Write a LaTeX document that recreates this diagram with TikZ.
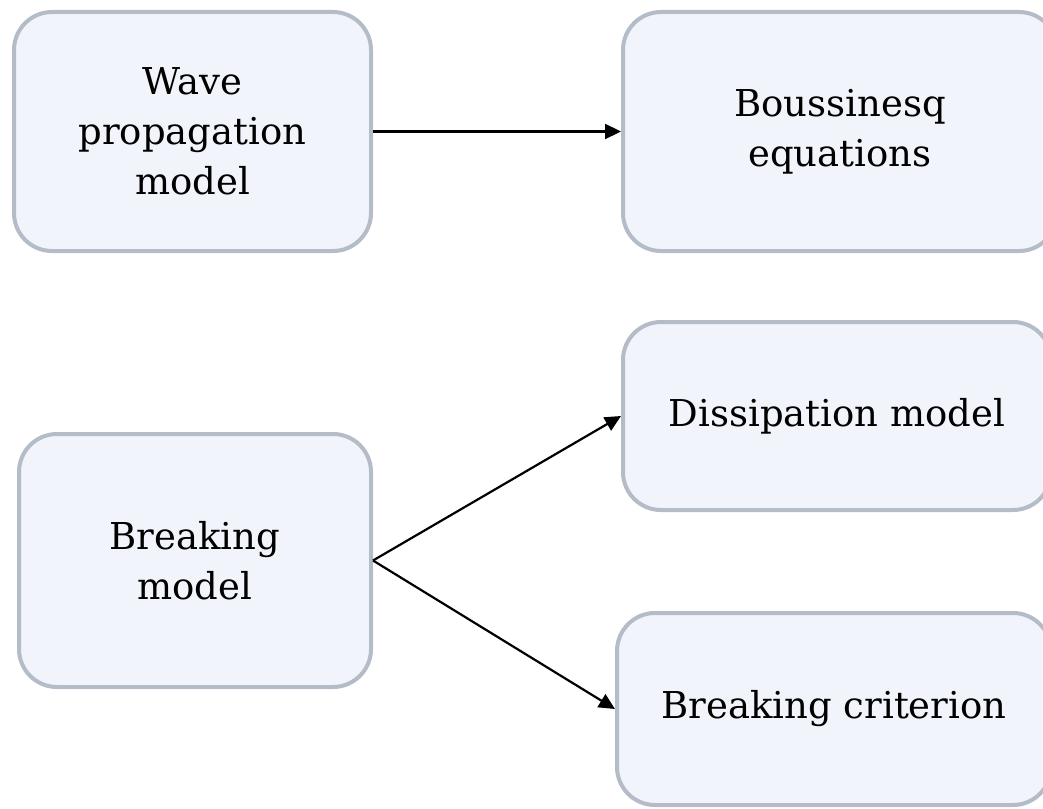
\documentclass[tikz,border=0pt]{standalone}
\usepackage{fontspec}
\setmainfont{DejaVu Serif}
\usetikzlibrary{arrows.meta}
\definecolor{boxfill}{HTML}{F1F4FA}
\definecolor{boxline}{HTML}{B4BCC8}
\tikzset{
  box/.style={draw=boxline, fill=boxfill, line width=4pt, rounded corners=38pt,
    align=center, inner sep=0pt, font=\fontsize{37}{50}\selectfont},
  conn/.style={line width=2.2pt, -{Triangle[length=16pt,width=15pt]}}
}
\begin{document}
\begin{tikzpicture}[x=1pt,y=-1pt]
\useasboundingbox (0,0) rectangle (1043,808);
\clip (0,0) rectangle (1043,808);
\node[box, minimum width=357pt, minimum height=239pt] (wave) at (192.5,131.5) {Wave\\propagation\\model};
\node[box, minimum width=434pt, minimum height=239pt] (bous) at (840,131.5) {Boussinesq\\equations};
\node[box, minimum width=428pt, minimum height=188pt] (diss) at (837,416) {Dissipation model};
\node[box, minimum width=352pt, minimum height=253pt] (brk) at (195,560.5) {Breaking\\model};
\node[box, minimum width=434pt, minimum height=192pt] (crit) at (834,709) {Breaking criterion};
\draw[conn] (wave.east) -- (bous.west);
\draw[conn] (brk.east) -- (diss.west);
\draw[conn] (brk.east) -- (crit.west);
\end{tikzpicture}
\end{document}
